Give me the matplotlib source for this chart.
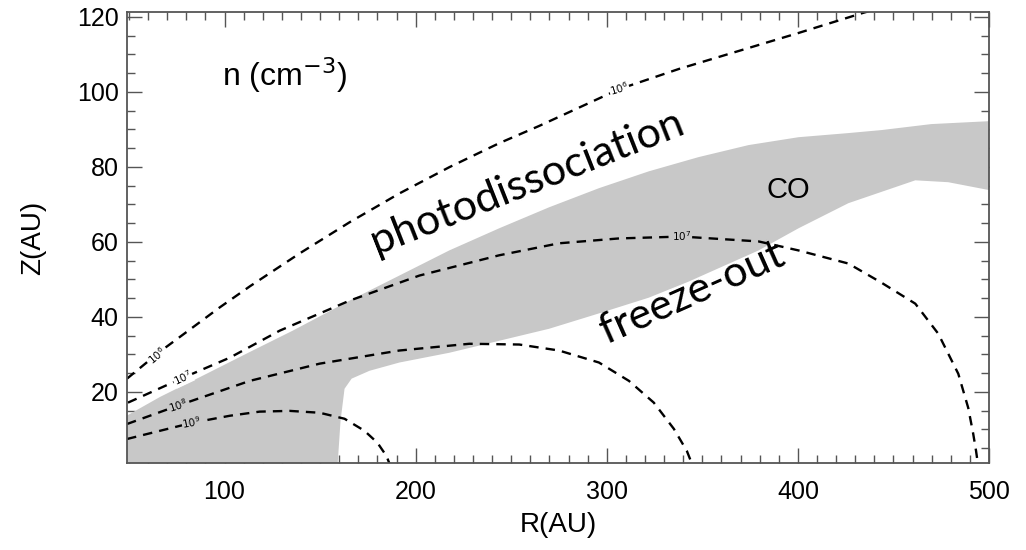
import matplotlib
matplotlib.use('Agg')
import matplotlib.pyplot as plt
from matplotlib.ticker import MultipleLocator

# density contours (R, Z in AU)
r_n6 = [49, 66.2, 80.3, 97.5, 113.2, 139.3, 165.4, 191.5, 217.6, 243.7, 264.6, 306.4, 337.7, 369.0, 400.3, 434.3, 452.5]
z_n6 = [23.5, 30.7, 36.0, 42.5, 48.1, 56.9, 65.2, 72.9, 79.9, 86.3, 90.9, 100.7, 106.1, 110.9, 115.7, 121.1, 123.7]

r_n7 = [49.5, 78.2, 102.8, 128.9, 165.4, 202.0, 243.7, 275.0, 306.4, 339.2, 379.4, 400.3, 426.4, 443.7, 461.4, 473.4, 483.9, 489.1, 491.7, 493.2, 494.3]
z_n7 = [17.1, 23.7, 29.1, 36.3, 44.3, 51.0, 56.4, 59.6, 60.9, 61.4, 60.1, 57.7, 54.2, 49.1, 43.5, 35.5, 24.8, 15.7, 8.8, 4.2, 0.2]

r_n8 = [49, 75.6, 113.2, 149.8, 191.5, 228.1, 254.2, 275.0, 295.9, 311.6, 324.6, 335.1, 341.9, 345.0]
z_n8 = [11.4, 16.3, 22.9, 27.5, 31.0, 32.8, 32.6, 31.0, 27.8, 22.9, 17.1, 10.1, 4.2, 0.2]

r_n9 = [49, 82.9, 102.8, 118.4, 134.1, 149.8, 162.8, 173.2, 180.0, 184.7, 186.8]
z_n9 = [7.4, 11.7, 13.6, 14.7, 14.9, 14.4, 12.8, 9.6, 6.4, 2.9, 0.2]

# CO layer (gray band): upper edge left->right, lower edge right->left
co_top_r = [45, 66.2, 87.1, 113.2, 135.7, 165.4, 191.5, 217.6, 243.7, 269.8, 295.9, 322.0, 348.1, 374.2, 400.3, 426.4, 443.7, 469.8, 501]
co_top_z = [12.5, 18.6, 23.9, 30.6, 36.3, 44.3, 51.0, 57.7, 63.6, 69.2, 74.3, 78.8, 82.6, 85.8, 87.9, 89.0, 89.8, 91.4, 92.2]
co_bot_r = [501, 478.6, 461.4, 426.4, 400.3, 379.4, 342.9, 322.0, 295.9, 269.8, 243.7, 217.6, 191.5, 175.9, 166.5, 162.8, 160.7, 159.1, 45]
co_bot_z = [73.7, 75.9, 76.4, 70.3, 63.6, 57.7, 49.4, 45.1, 40.9, 36.8, 33.6, 30.4, 27.8, 25.6, 23.5, 20.8, 12.2, 0.0, 0.0]

fig = plt.figure(figsize=(10.26, 5.5), dpi=100)
ax = fig.add_axes([0.1238, 0.1582, 0.8402, 0.82])

ax.fill(co_top_r + co_bot_r, co_top_z + co_bot_z, color='#c8c8c8', lw=0, zorder=3)

dash = (0, (4, 3))
for r, z in [(r_n6, z_n6), (r_n7, z_n7), (r_n8, z_n8), (r_n9, z_n9)]:
    ax.plot(r, z, color='black', lw=1.7, linestyle=dash, zorder=4)

# inline contour labels
labels = [('$10^6$', 64.7, 29.6, 40, 'white'),
          ('$10^6$', 306.4, 101.0, 17, 'white'),
          ('$10^7$', 78.2, 23.7, 25, 'white'),
          ('$10^7$', 339.2, 61.4, 0, '#c8c8c8'),
          ('$10^8$', 75.6, 16.3, 18, '#c8c8c8'),
          ('$10^9$', 82.9, 11.7, 10, '#c8c8c8')]
for txt, r, z, rot, bg in labels:
    ax.text(r, z, txt, fontsize=7.5, rotation=rot, ha='center', va='center',
            rotation_mode='anchor', zorder=5,
            bbox=dict(facecolor=bg, edgecolor='none', pad=0.3))

ax.text(98.6, 104.5, 'n (cm$^{-3}$)', fontsize=23, family='Liberation Sans',
        ha='left', va='center', zorder=6)
ax.text(395.1, 73.7, 'CO', fontsize=21, family='Liberation Sans',
        ha='center', va='center', zorder=6)
ax.text(258.3, 75.9, 'photodissociation', fontsize=31, family='Lato',
        rotation=21.5, rotation_mode='anchor', ha='center', va='center', zorder=6)
ax.text(344.5, 46.5, 'freeze-out', fontsize=31, family='Lato',
        rotation=24, rotation_mode='anchor', ha='center', va='center', zorder=6)

ax.set_xlim(49, 500)
ax.set_ylim(1, 121.3)
ax.xaxis.set_major_locator(MultipleLocator(100))
ax.xaxis.set_minor_locator(MultipleLocator(10))
ax.yaxis.set_major_locator(MultipleLocator(20))
ax.yaxis.set_minor_locator(MultipleLocator(5))
ax.tick_params(which='both', direction='in', top=True, right=True, color='#555555')
ax.tick_params(which='major', length=11, width=1.0)
ax.tick_params(which='minor', length=6, width=1.0)
ax.tick_params(axis='x', pad=12)
ax.tick_params(axis='y', pad=6)
for lab in ax.get_xticklabels() + ax.get_yticklabels():
    lab.set_fontsize(18)
    lab.set_family('Liberation Sans')
for sp in ax.spines.values():
    sp.set_color('#555555')
    sp.set_linewidth(1.3)
    sp.set_zorder(7)

ax.set_xlabel('R(AU)', fontsize=20, family='Liberation Sans', labelpad=6)
ax.set_ylabel('Z(AU)', fontsize=20, family='Liberation Sans', labelpad=22)

fig.savefig('out.png', dpi=100)
